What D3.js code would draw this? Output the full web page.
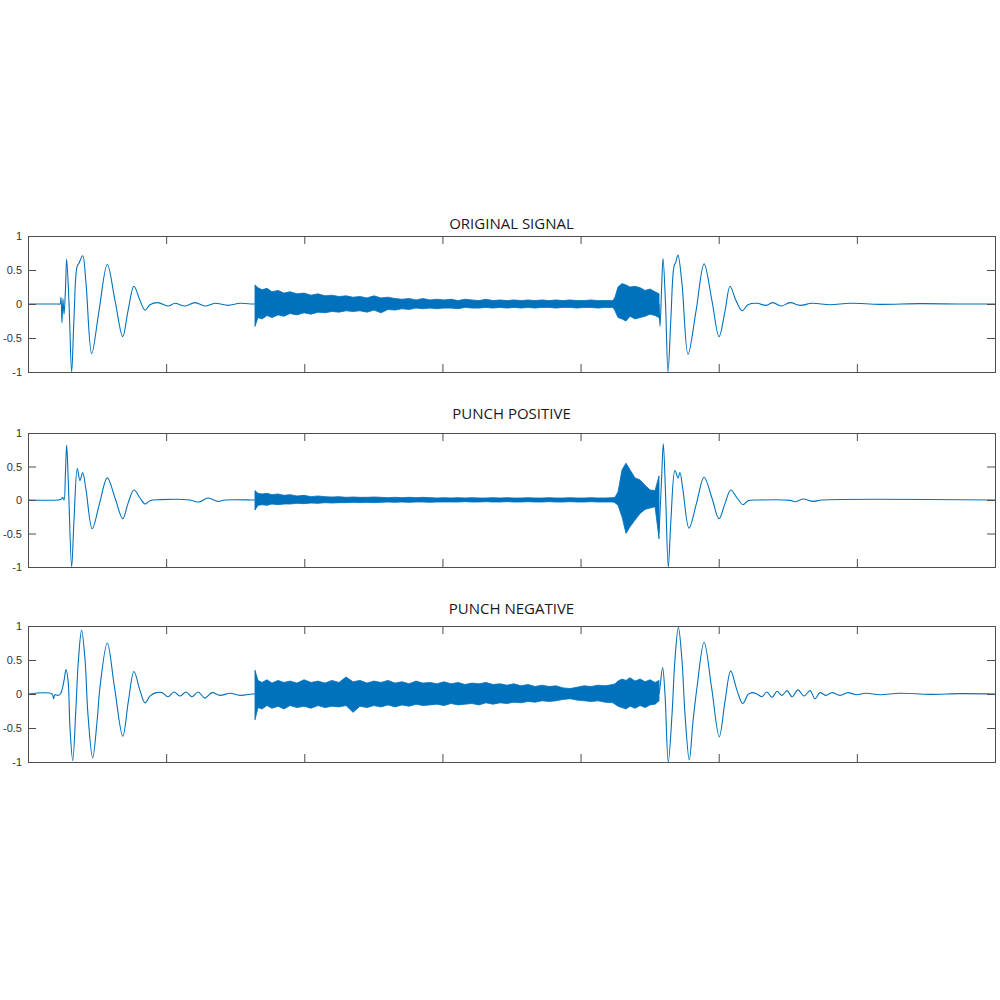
<!DOCTYPE html>
<html>
<head>
<meta charset="utf-8">
<script src="https://cdn.jsdelivr.net/npm/d3@7"></script>
<style>
  html, body { margin: 0; padding: 0; background: #ffffff; }
  svg { display: block; }
</style>
</head>
<body>
<svg id="chart" width="1000" height="1000"></svg>
<script>
// ---------------- DATA ----------------
const titles = ["ORIGINAL SIGNAL", "PUNCH POSITIVE", "PUNCH NEGATIVE"];
const xTicks = [1, 2, 3, 4, 5, 6];
const yTicks = [-1, -0.5, 0, 0.5, 1];
const yTickLabels = ["-1", "-0.5", "0", "0.5", "1"];

// shared time samples of the noisy middle section (envelope read per sample)
const noiseT = [1.643, 1.665, 1.694, 1.730, 1.766, 1.810, 1.853, 1.897, 1.947, 1.998,
  2.049, 2.099, 2.150, 2.200, 2.251, 2.302, 2.353, 2.403, 2.454, 2.504,
  2.555, 2.606, 2.657, 2.707, 2.758, 2.809, 2.859, 2.910, 2.961, 3.011,
  3.062, 3.113, 3.163, 3.214, 3.265, 3.315, 3.366, 3.417, 3.467, 3.518,
  3.569, 3.619, 3.670, 3.721, 3.772, 3.822, 3.873, 3.924, 3.974, 4.025,
  4.076, 4.126, 4.177, 4.235,
  4.249, 4.271, 4.3, 4.329, 4.358, 4.394, 4.431, 4.467, 4.503, 4.539, 4.568];

// ORIGINAL SIGNAL
const origLeftT = [0, 0.217, 0.232, 0.239, 0.246, 0.253, 0.261, 0.271, 0.280, 0.297,
  0.316, 0.333, 0.355, 0.369, 0.396, 0.420, 0.461, 0.514, 0.574, 0.630,
  0.686, 0.724, 0.767, 0.811, 0.847, 0.883, 0.941, 1.013, 1.064, 1.137,
  1.209, 1.281, 1.354, 1.448, 1.535, 1.622, 1.643];
const origLeftV = [0, 0, 0.0, 0.1, -0.28, 0.08, -0.15, 0.2, 0.66, 0,
  -1.0, -0.2, 0.55, 0.6, 0.71, 0.3, -0.73, -0.1, 0.58, 0.05,
  -0.48, -0.1, 0.26, 0.05, -0.09, -0.01, 0.02, -0.03, 0.01, -0.03,
  0.02, -0.03, 0.01, -0.02, 0.01, 0, 0];
const origNoiseHi = [0.28, 0.24, 0.21, 0.23, 0.18, 0.2, 0.16, 0.18, 0.15, 0.16,
  0.13, 0.15, 0.12, 0.13, 0.11, 0.12, 0.1, 0.11, 0.09, 0.12,
  0.09, 0.1, 0.08, 0.07, 0.08, 0.06, 0.08, 0.06, 0.07, 0.06,
  0.07, 0.05, 0.07, 0.06, 0.05, 0.07, 0.05, 0.06, 0.05, 0.06,
  0.05, 0.06, 0.05, 0.06, 0.05, 0.06, 0.05, 0.06, 0.05, 0.05,
  0.06, 0.05, 0.05, 0.05,
  0.1, 0.25, 0.3, 0.28, 0.25, 0.26, 0.24, 0.2, 0.22, 0.18, 0.15];
const origNoiseLo = [-0.33, -0.2, -0.22, -0.17, -0.2, -0.16, -0.18, -0.14, -0.16, -0.13,
  -0.15, -0.12, -0.13, -0.11, -0.12, -0.1, -0.11, -0.1, -0.12, -0.09,
  -0.13, -0.08, -0.09, -0.07, -0.08, -0.06, -0.07, -0.06, -0.07, -0.06,
  -0.06, -0.07, -0.05, -0.06, -0.06, -0.05, -0.06, -0.05, -0.06, -0.05,
  -0.06, -0.05, -0.06, -0.05, -0.05, -0.06, -0.05, -0.05, -0.06, -0.05,
  -0.05, -0.06, -0.05, -0.05,
  -0.1, -0.2, -0.22, -0.25, -0.18, -0.22, -0.2, -0.18, -0.15, -0.17, -0.2];
const origRightT = [4.568, 4.575, 4.586, 4.597, 4.615, 4.633, 4.654, 4.676, 4.69, 4.705,
  4.734, 4.778, 4.836, 4.894, 4.951, 5.002, 5.046, 5.082, 5.125, 5.169,
  5.212, 5.277, 5.342, 5.393, 5.451, 5.516, 5.589, 5.675, 5.806, 5.951,
  6.168, 6.457, 6.747, 7.0];
const origRightV = [0, -0.33, 0.2, 0.67, 0, -1.0, -0.2, 0.55, 0.62, 0.72,
  0.3, -0.74, -0.1, 0.59, 0.05, -0.48, -0.1, 0.26, 0.05, -0.1,
  -0.01, 0.01, -0.02, 0.02, -0.03, 0.02, -0.02, 0.01, -0.01, 0.01,
  -0.005, 0.005, 0, 0];

// PUNCH POSITIVE
const posLeftT = [0, 0.217, 0.239, 0.251, 0.261, 0.271, 0.280, 0.293, 0.316, 0.333,
  0.357, 0.376, 0.396, 0.420, 0.465, 0.518, 0.574, 0.630, 0.686, 0.724,
  0.767, 0.811, 0.847, 0.883, 0.956, 1.173, 1.238, 1.303, 1.375, 1.426,
  1.622, 1.643];
const posLeftV = [0, 0, 0.01, 0.04, 0.0, 0.4, 0.82, 0.2, -1.0, -0.3,
  0.47, 0.29, 0.41, 0.15, -0.43, -0.05, 0.33, 0.03, -0.28, -0.05,
  0.15, 0.03, -0.06, -0.01, 0.005, 0, -0.03, 0.03, -0.02, 0,
  0, 0];
const posNoiseHi = [0.14, 0.1, 0.09, 0.1, 0.08, 0.09, 0.07, 0.08, 0.06, 0.07,
  0.05, 0.06, 0.05, 0.045, 0.05, 0.04, 0.045, 0.04, 0.04, 0.045,
  0.04, 0.035, 0.04, 0.035, 0.04, 0.035, 0.04, 0.035, 0.03, 0.035,
  0.03, 0.035, 0.03, 0.035, 0.03, 0.03, 0.035, 0.03, 0.035, 0.03,
  0.03, 0.035, 0.03, 0.03, 0.035, 0.03, 0.03, 0.035, 0.03, 0.03,
  0.035, 0.03, 0.03, 0.035,
  0.04, 0.12, 0.45, 0.55, 0.45, 0.33, 0.3, 0.22, 0.15, 0.14, 0.36];
const posNoiseLo = [-0.15, -0.08, -0.07, -0.08, -0.06, -0.07, -0.06, -0.06, -0.05, -0.055,
  -0.045, -0.05, -0.04, -0.045, -0.04, -0.04, -0.035, -0.04, -0.035, -0.04,
  -0.035, -0.03, -0.035, -0.03, -0.035, -0.03, -0.03, -0.035, -0.03, -0.03,
  -0.03, -0.03, -0.025, -0.03, -0.03, -0.025, -0.03, -0.03, -0.025, -0.03,
  -0.03, -0.025, -0.03, -0.03, -0.025, -0.03, -0.03, -0.025, -0.03, -0.03,
  -0.025, -0.03, -0.03, -0.03,
  -0.04, -0.08, -0.25, -0.5, -0.4, -0.3, -0.2, -0.14, -0.12, -0.1, -0.58];
const posRightT = [4.568, 4.586, 4.599, 4.615, 4.635, 4.654, 4.683, 4.705, 4.719, 4.741,
  4.785, 4.839, 4.894, 4.951, 5.002, 5.046, 5.087, 5.133, 5.176, 5.212,
  5.299, 5.516, 5.553, 5.61, 5.683, 5.748, 7.0];
const posRightV = [-0.5, 0.3, 0.84, 0.1, -1.0, -0.3, 0.44, 0.33, 0.41, 0.15,
  -0.42, -0.05, 0.34, 0.03, -0.28, -0.05, 0.15, 0.03, -0.07, -0.01,
  0, -0.005, -0.025, 0.015, -0.02, 0, 0];

// PUNCH NEGATIVE
const negLeftT = [0, 0.174, 0.185, 0.195, 0.217, 0.235, 0.246, 0.261, 0.275, 0.29,
  0.304, 0.324, 0.347, 0.365, 0.388, 0.413, 0.434, 0.468, 0.5, 0.521,
  0.574, 0.626, 0.686, 0.727, 0.767, 0.811, 0.847, 0.883, 0.927, 0.97,
  1.013, 1.057, 1.1, 1.144, 1.187, 1.231, 1.281, 1.332, 1.39, 1.462,
  1.535, 1.622, 1.643];
const negLeftV = [0, 0, -0.07, -0.01, -0.02, 0, 0.06, 0.2, 0.36, 0.2,
  -0.5, -0.98, -0.2, 0.5, 0.94, 0.5, -0.3, -0.94, -0.4, 0.1,
  0.75, 0.1, -0.62, -0.1, 0.33, 0.05, -0.13, -0.03, 0.02, 0.02,
  -0.04, 0.03, -0.03, 0.03, -0.04, 0.03, -0.06, 0.02, -0.02, 0.01,
  -0.02, 0, 0];
const negNoiseHi = [0.35, 0.2, 0.17, 0.21, 0.16, 0.2, 0.17, 0.19, 0.16, 0.21,
  0.17, 0.19, 0.16, 0.2, 0.17, 0.25, 0.18, 0.2, 0.16, 0.19,
  0.17, 0.2, 0.16, 0.18, 0.15, 0.19, 0.16, 0.17, 0.15, 0.18,
  0.15, 0.17, 0.14, 0.16, 0.15, 0.17, 0.14, 0.15, 0.13, 0.15,
  0.12, 0.14, 0.11, 0.13, 0.11, 0.12, 0.09, 0.08, 0.1, 0.12,
  0.11, 0.13, 0.12, 0.14,
  0.15, 0.19, 0.22, 0.2, 0.24, 0.19, 0.22, 0.18, 0.21, 0.17, 0.2];
const negNoiseLo = [-0.38, -0.2, -0.22, -0.17, -0.21, -0.18, -0.22, -0.17, -0.2, -0.18,
  -0.21, -0.17, -0.2, -0.18, -0.19, -0.17, -0.27, -0.18, -0.2, -0.17,
  -0.19, -0.16, -0.19, -0.16, -0.18, -0.15, -0.17, -0.16, -0.15, -0.17,
  -0.14, -0.16, -0.15, -0.14, -0.16, -0.13, -0.15, -0.13, -0.14, -0.12,
  -0.13, -0.11, -0.12, -0.1, -0.11, -0.1, -0.08, -0.07, -0.09, -0.1,
  -0.11, -0.1, -0.12, -0.13,
  -0.15, -0.18, -0.2, -0.22, -0.18, -0.21, -0.17, -0.2, -0.16, -0.15, -0.1];
const negRightT = [4.568, 4.575, 4.594, 4.611, 4.635, 4.662, 4.683, 4.708, 4.734, 4.756,
  4.787, 4.814, 4.843, 4.894, 4.948, 5.004, 5.046, 5.087, 5.133, 5.174,
  5.212, 5.241, 5.277, 5.313, 5.349, 5.386, 5.422, 5.458, 5.494, 5.531,
  5.574, 5.618, 5.661, 5.697, 5.733, 5.777, 5.82, 5.878, 5.936, 5.994,
  6.066, 6.168, 6.312, 6.53, 6.747, 7.0];
const negRightV = [0, 0.1, 0.39, 0, -1.0, -0.3, 0.5, 0.98, 0.5, -0.3,
  -0.97, -0.4, 0.1, 0.76, 0.1, -0.63, -0.1, 0.34, 0.05, -0.14,
  -0.01, 0.02, 0, -0.04, 0.03, -0.05, 0.04, -0.02, 0.05, -0.04,
  0.06, -0.03, 0.05, -0.07, 0.02, -0.02, 0.02, -0.02, 0.02, -0.01,
  0.01, -0.01, 0.01, -0.005, 0.005, 0];

// ---------------- LAYOUT ----------------
const panels = [
  { title: titles[0], top: 236, bottom: 372, titleY: 229,
    left: [origLeftT, origLeftV], right: [origRightT, origRightV], hi: origNoiseHi, lo: origNoiseLo },
  { title: titles[1], top: 433, bottom: 567, titleY: 419,
    left: [posLeftT, posLeftV], right: [posRightT, posRightV], hi: posNoiseHi, lo: posNoiseLo },
  { title: titles[2], top: 626, bottom: 762, titleY: 614,
    left: [negLeftT, negLeftV], right: [negRightT, negRightV], hi: negNoiseHi, lo: negNoiseLo }
];
const plotLeft = 28, plotRight = 995;
const lineColor = "#0072BD";
const axisColor = "#4d4d4d";
const tickLen = 8;

const svg = d3.select("#chart");

const x = d3.scaleLinear().domain([0, 7]).range([plotLeft, plotRight]);

panels.forEach((p, i) => {
  const y = d3.scaleLinear().domain([-1, 1]).range([p.bottom, p.top]);
  const g = svg.append("g");

  const clipId = "clip" + i;
  svg.append("clipPath").attr("id", clipId)
    .append("rect")
    .attr("x", plotLeft).attr("y", p.top)
    .attr("width", plotRight - plotLeft).attr("height", p.bottom - p.top);

  const plot = g.append("g").attr("clip-path", `url(#${clipId})`);

  // noisy section as an envelope band
  const noise = d3.zip(noiseT, p.hi, p.lo);
  plot.append("path")
    .datum(noise)
    .attr("d", d3.area().x(d => x(d[0])).y0(d => y(d[2])).y1(d => y(d[1])).curve(d3.curveLinear))
    .attr("fill", lineColor)
    .attr("stroke", lineColor)
    .attr("stroke-width", 0.8)
    .attr("stroke-linejoin", "miter");

  const line = d3.line().x(d => x(d[0])).y(d => y(d[1])).curve(d3.curveCatmullRom.alpha(0.5));
  [p.left, p.right].forEach(seg => {
    plot.append("path")
      .datum(d3.zip(seg[0], seg[1]))
      .attr("d", line)
      .attr("fill", "none")
      .attr("stroke", lineColor)
      .attr("stroke-width", 1.1)
      .attr("stroke-linejoin", "round");
  });

  // axes (box with inward ticks)
  const xAxisBottom = d3.axisBottom(x).tickValues(xTicks).tickSize(-tickLen).tickFormat("");
  const xAxisTop = d3.axisTop(x).tickValues(xTicks).tickSize(-tickLen).tickFormat("");
  const yAxisLeft = d3.axisLeft(y).tickValues(yTicks).tickSize(-tickLen)
    .tickFormat(d => yTickLabels[yTicks.indexOf(d)]).tickPadding(6);
  const yAxisRight = d3.axisRight(y).tickValues(yTicks).tickSize(-tickLen).tickFormat("");

  const axes = [
    g.append("g").attr("transform", `translate(0,${p.bottom})`).call(xAxisBottom),
    g.append("g").attr("transform", `translate(0,${p.top})`).call(xAxisTop),
    g.append("g").attr("transform", `translate(${plotLeft},0)`).call(yAxisLeft),
    g.append("g").attr("transform", `translate(${plotRight},0)`).call(yAxisRight)
  ];
  axes.forEach(a => {
    a.select(".domain").attr("stroke", axisColor).attr("stroke-width", 1);
    a.selectAll(".tick line").attr("stroke", axisColor).attr("stroke-width", 1);
    a.selectAll(".tick text")
      .attr("fill", "#333333")
      .style("font-family", "'Liberation Sans', Arial, sans-serif")
      .style("font-size", "11px");
  });

  g.append("text")
    .attr("x", (plotLeft + plotRight) / 2)
    .attr("y", p.titleY)
    .attr("text-anchor", "middle")
    .attr("fill", "#1a1a1a")
    .style("font-family", "'Open Sans', 'Noto Sans', sans-serif")
    .style("font-size", "15px")
    .text(p.title);
});
</script>
</body>
</html>
